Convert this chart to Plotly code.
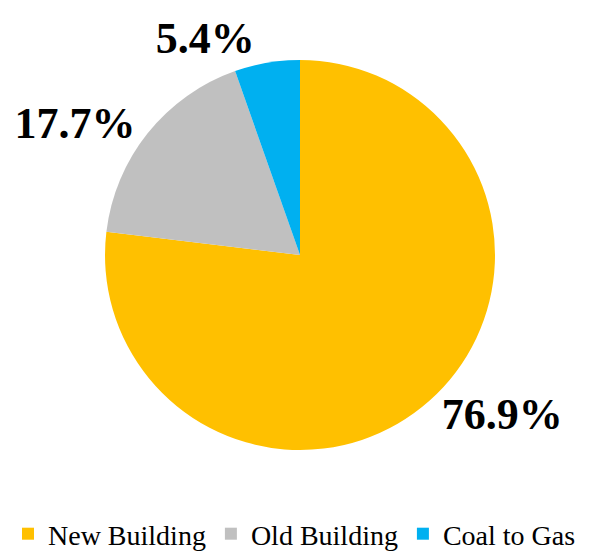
import plotly.graph_objects as go

# ── Data ──────────────────────────────────────────────────────────────────────

CATEGORIES = ['New Building', 'Old Building', 'Coal to Gas']
SHARES     = [76.9, 17.7, 5.4]
COLORS     = ['#FFC000', '#C0C0C0', '#00B0F0']

FONT = 'Liberation Serif'

# ── Chart ─────────────────────────────────────────────────────────────────────

fig = go.Figure(go.Pie(
    labels=CATEGORIES,
    values=SHARES,
    marker=dict(colors=COLORS, line=dict(width=0)),
    sort=False,
    direction='clockwise',
    rotation=0,
    textposition='outside',
    texttemplate='<b>%{percent:.1%}</b>',
    textfont=dict(family=FONT, size=44, color='black'),
    domain=dict(x=[0, 0.9685], y=[(551 - 442) / 551, (551 - 52) / 551]),
    automargin=False,
    showlegend=True,
))

fig.update_layout(
    width=603, height=551,
    font=dict(family=FONT, size=28, color='black'),
    margin=dict(l=0, r=0, t=0, b=0, autoexpand=False),
    paper_bgcolor='white',
    legend=dict(orientation='h', x=0, xanchor='left', y=0, yanchor='bottom',
                font=dict(family=FONT, size=28, color='black'),
                itemwidth=30),
)

fig.write_html("out.html")
